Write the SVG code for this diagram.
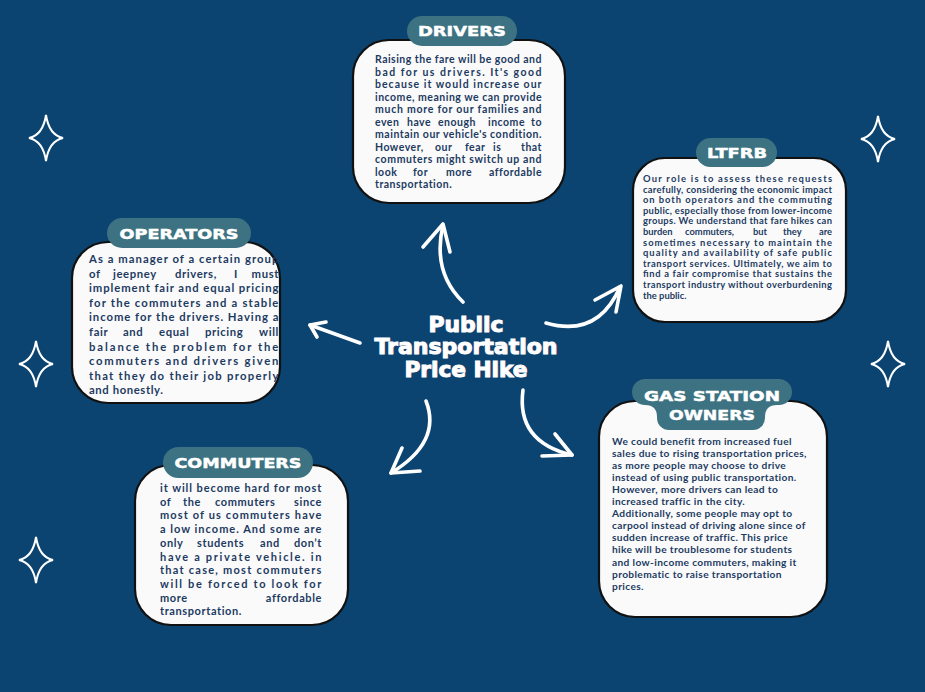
<svg xmlns="http://www.w3.org/2000/svg" width="925" height="692" viewBox="0 0 925 692">
  <defs>
    <style>
      .card { fill: #fafafa; stroke: #111; stroke-width: 2.2; }
      .pill { fill: #3c7281; }
      .head { font-family: "DejaVu Sans", sans-serif; font-weight: bold; font-size: 14.5px; fill: #fff; stroke: #fff; stroke-width: 0.5; text-anchor: middle; }
      .body { font-family: Lato, "Liberation Sans", sans-serif; font-weight: bold; fill: #1d3b62; }
      .d { font-size: 10.5px; letter-spacing: 0.5px; }
      .o { font-size: 11.3px; letter-spacing: 0.6px; }
      .c { font-size: 11px; letter-spacing: 0.6px; }
      .l { font-size: 9.4px; }
      .g { font-size: 10.2px; letter-spacing: 0.35px; }
      .end { text-anchor: end; }
      .title { font-family: "DejaVu Sans", sans-serif; font-weight: bold; font-size: 21px; text-anchor: middle; }
      .arrow { fill: none; stroke: #fff; stroke-width: 3.6; stroke-linecap: round; stroke-linejoin: round; }
      .star { fill: none; stroke: #fff; stroke-width: 2; }
    </style>
    <path id="sparkle" d="M0,-23 Q3,-3 17,0 Q3,3 0,23 Q-3,3 -17,0 Q-3,-3 0,-23 Z"/>
  </defs>

  <rect width="925" height="692" fill="#0b4470"/>

  <!-- decorative sparkles -->
  <g id="sparkles" class="star">
    <use href="#sparkle" x="46" y="138"/>
    <use href="#sparkle" x="878" y="139"/>
    <use href="#sparkle" x="36" y="364"/>
    <use href="#sparkle" x="888" y="364"/>
    <use href="#sparkle" x="36" y="560"/>
  </g>

  <!-- arrows from the centre topic -->
  <g id="connectors" class="arrow">
    <path d="M463,302 Q432,272 443,225"/>
    <path d="M423,247 L443,224 L450,252"/>
    <path d="M546,323 Q598,338 620,287"/>
    <path d="M595,300 L621,286 L616,312"/>
    <path d="M360,343 L310,325"/>
    <path d="M326,322 L310,325 L317,337"/>
    <path d="M426,401 Q442,442 391,473"/>
    <path d="M402,448 L391,473 L420,471"/>
    <path d="M523,390 Q516,442 572,455"/>
    <path d="M555,434 L572,455 L542,456"/>
  </g>

  <!-- centre topic -->
  <g id="topic">
    <g fill="#e2477a" opacity="0.6" transform="translate(0.8,0)" class="title">
      <text x="466" y="332" textLength="75" lengthAdjust="spacingAndGlyphs">Public</text>
      <text x="466" y="354" textLength="183" lengthAdjust="spacingAndGlyphs">Transportation</text>
      <text x="466" y="377" textLength="123" lengthAdjust="spacingAndGlyphs">Price Hike</text>
    </g>
    <g fill="#fff" stroke="#fff" stroke-width="1" class="title">
      <text x="466" y="332" textLength="75" lengthAdjust="spacingAndGlyphs">Public</text>
      <text x="466" y="354" textLength="183" lengthAdjust="spacingAndGlyphs">Transportation</text>
      <text x="466" y="377" textLength="123" lengthAdjust="spacingAndGlyphs">Price Hike</text>
    </g>
  </g>

  <!-- DRIVERS -->
  <g id="drivers">
    <rect class="card" x="353" y="40" width="212" height="163" rx="36"/>
    <rect class="pill" x="407" y="16" width="110" height="30" rx="15"/>
    <text class="head" x="462" y="36" textLength="88" lengthAdjust="spacingAndGlyphs">DRIVERS</text>
    <g class="body d">
      <text x="375" y="63" textLength="167">Raising the fare will be good and</text>
      <text x="375" y="75.5" textLength="167">bad for us drivers. It's good</text>
      <text x="375" y="88" textLength="167">because it would increase our</text>
      <text x="375" y="100.5" textLength="167">income, meaning we can provide</text>
      <text x="375" y="113" textLength="167">much more for our families and</text>
      <text x="375" y="125.5"><tspan x="375">even</tspan><tspan x="407">have</tspan><tspan x="438">enough</tspan><tspan x="488">income</tspan></text>
      <text class="end" x="542" y="125.5">to</text>
      <text x="375" y="138" textLength="167">maintain our vehicle's condition.</text>
      <text x="375" y="150.5"><tspan x="375">However,</tspan><tspan x="435">our</tspan><tspan x="465">fear</tspan><tspan x="493">is</tspan></text>
      <text class="end" x="542" y="150.5">that</text>
      <text x="375" y="163" textLength="167">commuters might switch up and</text>
      <text x="375" y="175.5"><tspan x="375">look</tspan><tspan x="413">for</tspan><tspan x="446">more</tspan></text>
      <text class="end" x="542" y="175.5">affordable</text>
      <text x="375" y="188">transportation.</text>
    </g>
  </g>

  <!-- LTFRB -->
  <g id="ltfrb">
    <rect class="card" x="633" y="158" width="213" height="164" rx="32"/>
    <rect class="pill" x="696" y="138" width="81" height="29" rx="14.5"/>
    <text class="head" x="737" y="158" textLength="60" lengthAdjust="spacingAndGlyphs">LTFRB</text>
    <g class="body l">
      <text x="643" y="182" textLength="189">Our role is to assess these requests</text>
      <text x="643" y="192.6" textLength="189">carefully, considering the economic impact</text>
      <text x="643" y="203.2" textLength="189">on both operators and the commuting</text>
      <text x="643" y="213.8" textLength="189">public, especially those from lower-income</text>
      <text x="643" y="224.4" textLength="189">groups. We understand that fare hikes can</text>
      <text x="643" y="235"><tspan x="643">burden</tspan><tspan x="685">commuters,</tspan><tspan x="753">but</tspan><tspan x="783">they</tspan></text>
      <text class="end" x="832" y="235">are</text>
      <text x="643" y="245.6" textLength="189">sometimes necessary to maintain the</text>
      <text x="643" y="256.2" textLength="189">quality and availability of safe public</text>
      <text x="643" y="266.8" textLength="189">transport services. Ultimately, we aim to</text>
      <text x="643" y="277.4" textLength="189">find a fair compromise that sustains the</text>
      <text x="643" y="288" textLength="189">transport industry without overburdening</text>
      <text x="643" y="298.6">the public.</text>
    </g>
  </g>

  <!-- OPERATORS -->
  <g id="operators">
    <rect class="card" x="72" y="242" width="208" height="161" rx="36"/>
    <rect class="pill" x="107" y="218" width="144" height="30" rx="15"/>
    <text class="head" x="179" y="239" textLength="119" lengthAdjust="spacingAndGlyphs">OPERATORS</text>
    <g class="body o">
      <text x="89" y="263" textLength="190">As a manager of a certain group</text>
      <text x="89" y="277.6"><tspan x="89">of</tspan><tspan x="113">jeepney</tspan><tspan x="175">drivers,</tspan><tspan x="234">I</tspan></text>
      <text class="end" x="279" y="277.6">must</text>
      <text x="89" y="292.2" textLength="190">implement fair and equal pricing</text>
      <text x="89" y="306.8" textLength="190">for the commuters and a stable</text>
      <text x="89" y="321.4" textLength="190">income for the drivers. Having a</text>
      <text x="89" y="336"><tspan x="89">fair</tspan><tspan x="123">and</tspan><tspan x="159">equal</tspan><tspan x="205">pricing</tspan></text>
      <text class="end" x="279" y="336">will</text>
      <text x="89" y="350.6" textLength="190">balance the problem for the</text>
      <text x="89" y="365.2" textLength="190">commuters and drivers given</text>
      <text x="89" y="379.8" textLength="190">that they do their job properly</text>
      <text x="89" y="394.4">and honestly.</text>
    </g>
  </g>

  <!-- COMMUTERS -->
  <g id="commuters">
    <rect class="card" x="135" y="465" width="213" height="160" rx="36"/>
    <rect class="pill" x="163" y="447" width="150" height="31" rx="15.5"/>
    <text class="head" x="238" y="468" textLength="127" lengthAdjust="spacingAndGlyphs">COMMUTERS</text>
    <g class="body c">
      <text x="160" y="492" textLength="162">it will become hard for most</text>
      <text x="160" y="505.7"><tspan x="160">of</tspan><tspan x="183">the</tspan><tspan x="215">commuters</tspan></text>
      <text class="end" x="322" y="505.7">since</text>
      <text x="160" y="519.4" textLength="162">most of us commuters have</text>
      <text x="160" y="533.1" textLength="162">a low income. And some are</text>
      <text x="160" y="546.8"><tspan x="160">only</tspan><tspan x="197">students</tspan><tspan x="260">and</tspan></text>
      <text class="end" x="322" y="546.8">don’t</text>
      <text x="160" y="560.5" textLength="162">have a private vehicle. in</text>
      <text x="160" y="574.2" textLength="162">that case, most commuters</text>
      <text x="160" y="587.9" textLength="162">will be forced to look for</text>
      <text x="160" y="601.6">more</text>
      <text class="end" x="322" y="601.6">affordable</text>
      <text x="160" y="615.3">transportation.</text>
    </g>
  </g>

  <!-- GAS STATION OWNERS -->
  <g id="gas-station-owners">
    <rect class="card" x="599" y="401" width="228" height="216" rx="36"/>
    <path class="pill" d="M645,379 H779 A13,13 0 0 1 779,405 H777 Q765,405 765,417 V418 A12,12 0 0 1 753,430 H669 A12,12 0 0 1 657,418 V417 Q657,405 645,405 A13,13 0 0 1 645,379 Z"/>
    <text class="head" x="712" y="401" textLength="136" lengthAdjust="spacingAndGlyphs">GAS STATION</text>
    <text class="head" x="712" y="420" textLength="86" lengthAdjust="spacingAndGlyphs">OWNERS</text>
    <g class="body g">
      <text x="612" y="444.5">We could benefit from increased fuel</text>
      <text x="612" y="456.6">sales due to rising transportation prices,</text>
      <text x="612" y="468.7">as more people may choose to drive</text>
      <text x="612" y="480.8">instead of using public transportation.</text>
      <text x="612" y="492.9">However, more drivers can lead to</text>
      <text x="612" y="505">increased traffic in the city.</text>
      <text x="612" y="517.1">Additionally, some people may opt to</text>
      <text x="612" y="529.2">carpool instead of driving alone since of</text>
      <text x="612" y="541.3">sudden increase of traffic. This price</text>
      <text x="612" y="553.4">hike will be troublesome for students</text>
      <text x="612" y="565.5">and low-income commuters, making it</text>
      <text x="612" y="577.6">problematic to raise transportation</text>
      <text x="612" y="589.7">prices.</text>
    </g>
  </g>
</svg>
